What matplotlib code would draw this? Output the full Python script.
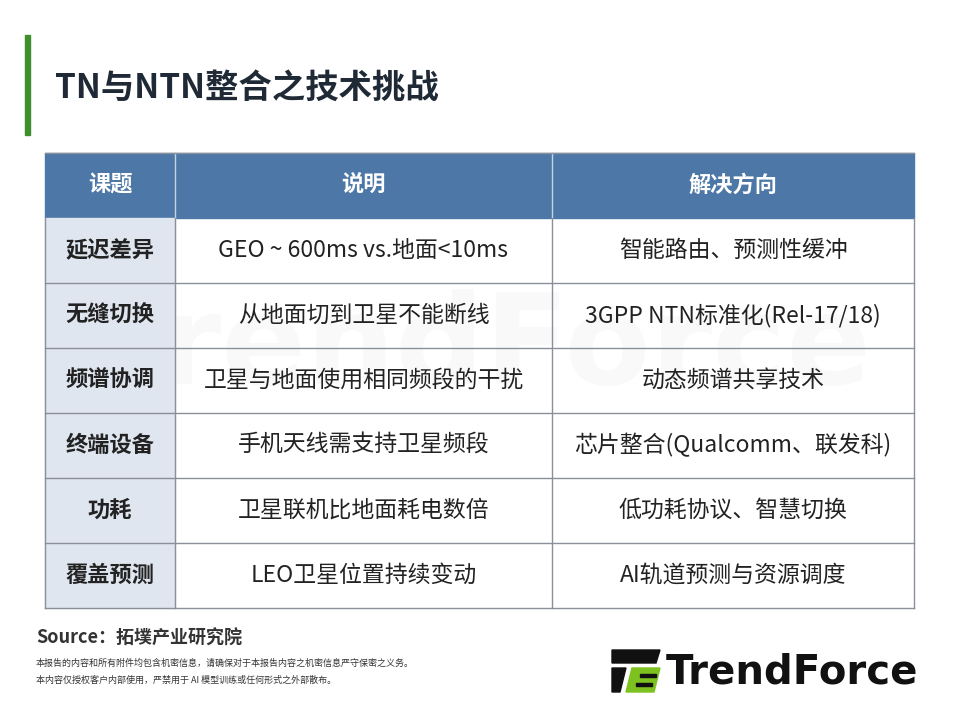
import matplotlib.pyplot as plt
from matplotlib.patches import Rectangle, Polygon

plt.rcParams['font.family'] = ['Noto Sans CJK SC', 'DejaVu Sans']

headers = ["课题", "说明", "解决方向"]
topics = ["延迟差异", "无缝切换", "频谱协调", "终端设备", "功耗", "覆盖预测"]
descriptions = ["GEO ~ 600ms vs.地面<10ms", "从地面切到卫星不能断线",
                "卫星与地面使用相同频段的干扰", "手机天线需支持卫星频段",
                "卫星联机比地面耗电数倍", "LEO卫星位置持续变动"]
solutions = ["智能路由、预测性缓冲", "3GPP NTN标准化(Rel-17/18)",
             "动态频谱共享技术", "芯片整合(Qualcomm、联发科)",
             "低功耗协议、智慧切换", "AI轨道预测与资源调度"]

col_x = [45, 175, 552, 914]
header_top, header_h, row_h = 153, 65, 65
header_color = "#4c77a6"
first_col_color = "#dfe6ef"
line_color = "#8a8f99"
text_color = "#222222"

fig = plt.figure(figsize=(9.6, 7.2), dpi=100)
ax = fig.add_axes([0, 0, 1, 1])
ax.set_xlim(0, 960)
ax.set_ylim(720, 0)
ax.axis("off")

# title bar
ax.add_patch(Rectangle((25, 35), 5, 100, color="#3f8f2c"))
ax.text(55, 88, "TN与NTN整合之技术挑战", fontsize=24, fontweight="bold",
        color="#1f2a36", va="center", ha="left")

# faint watermark
ax.text(480, 350, "TrendForce", fontsize=90, fontweight="bold", color="#000000",
        alpha=0.025, ha="center", va="center", family="DejaVu Sans", zorder=0)

# header
ax.add_patch(Rectangle((col_x[0], header_top), col_x[-1] - col_x[0], header_h,
                       color=header_color))
for i, h in enumerate(headers):
    cx = (col_x[i] + col_x[i + 1]) / 2
    ax.text(cx, header_top + header_h / 2, h, color="white", fontsize=16,
            fontweight="bold", ha="center", va="center")
for x in col_x[1:-1]:
    ax.plot([x, x], [header_top, header_top + header_h], color="#c8d4e3", lw=1)

# rows
for r in range(len(topics)):
    y0 = header_top + header_h + r * row_h
    ax.add_patch(Rectangle((col_x[0], y0), col_x[1] - col_x[0], row_h,
                           color=first_col_color))
    cy = y0 + row_h / 2
    ax.text((col_x[0] + col_x[1]) / 2, cy, topics[r], fontsize=16,
            fontweight="bold", color=text_color, ha="center", va="center")
    ax.text((col_x[1] + col_x[2]) / 2, cy, descriptions[r], fontsize=16.5,
            color=text_color, ha="center", va="center")
    ax.text((col_x[2] + col_x[3]) / 2, cy, solutions[r], fontsize=16.5,
            color=text_color, ha="center", va="center")
    ax.plot([col_x[0], col_x[-1]], [y0 + row_h, y0 + row_h], color=line_color, lw=1)

bottom = header_top + header_h + len(topics) * row_h
for x in col_x:
    ax.plot([x, x], [header_top + header_h, bottom], color=line_color, lw=1)
ax.plot([col_x[0], col_x[-1]], [header_top, header_top], color=line_color, lw=1)

# footer
ax.text(36, 638, "Source：拓墣产业研究院", fontsize=13, fontweight="bold",
        color="#333333", ha="left", va="center")
ax.text(36, 663, "本报告的内容和所有附件均包含机密信息，请确保对于本报告内容之机密信息严守保密之义务。",
        fontsize=6.5, color="#333333", ha="left", va="center")
ax.text(36, 680, "本内容仅授权客户内部使用，严禁用于 AI 模型训练或任何形式之外部散布。",
        fontsize=6.5, color="#333333", ha="left", va="center")

# logo
ax.add_patch(Polygon([[612, 650], [660, 650], [656, 663], [612, 663]], color="#111111"))
ax.add_patch(Polygon([[612, 668], [626, 668], [620, 692], [612, 692]], color="#111111"))
ax.add_patch(Polygon([[632, 668], [660, 668], [654, 692], [626, 692]], color="#7dc21e"))
ax.add_patch(Rectangle((640, 674), 16, 3, color="#111111"))
ax.add_patch(Rectangle((636, 683), 16, 3, color="#111111"))
ax.text(666, 672, "TrendForce", fontsize=29, fontweight="bold", color="#111111",
        ha="left", va="center", family="DejaVu Sans")

fig.savefig("out.png", dpi=100)
